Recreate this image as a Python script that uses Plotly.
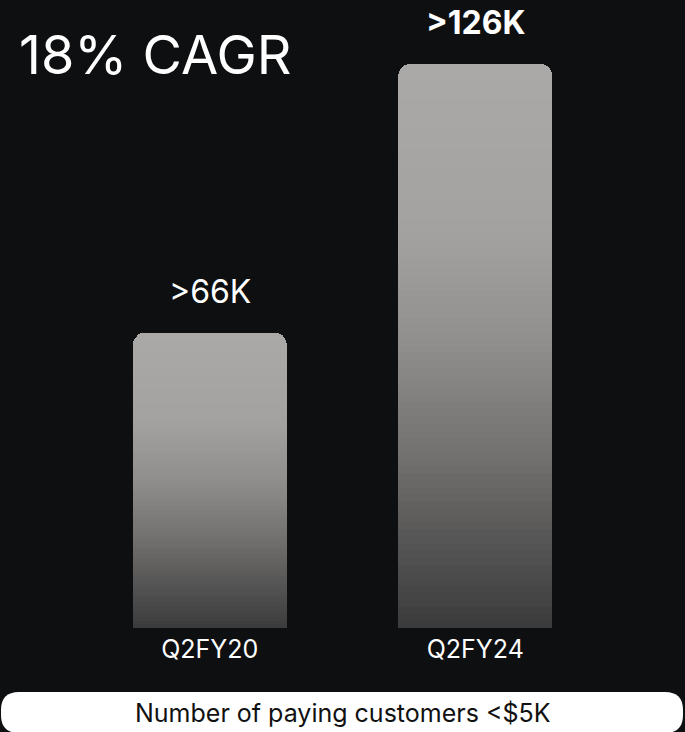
import plotly.graph_objects as go
from plotly.colors import sample_colorscale

# ---- data ----
categories = ["Q2FY20", "Q2FY24"]
values = [66, 126]          # thousands of paying customers
value_labels = [">66K", "<b>>126K</b>"]
headline = "18% CAGR"
footer = "Number of paying customers <$5K"

# ---- style / layout constants ----
W, H = 685, 732
ML, MR, MT, MB = 77, 77, 20, 104
PW, PH = W - ML - MR, H - MT - MB
BG = "#0e0f11"
FONT = "Inter"
PX_PER_UNIT = 4.476
YMAX = PH / PX_PER_UNIT
N_SEG = 80
grad = [[0.0, "#aaa9a7"], [0.3, "#a3a2a0"], [0.5, "#8f8e8c"],
        [0.7, "#71706e"], [0.85, "#565555"], [1.0, "#3b3b3b"]]


def px2paper_x(px):
    return (px - ML) / PW


def px2paper_y(py):
    return (H - MB - py) / PH


fig = go.Figure()

# gradient bars drawn as stacked slices of each value
for k in range(N_SEG):
    frac_top = 1 - (k + 0.5) / N_SEG
    col = sample_colorscale(grad, [frac_top])[0]
    fig.add_trace(go.Bar(
        x=categories,
        y=[v / N_SEG for v in values],
        marker=dict(color=col, line=dict(width=0)),
        hoverinfo="skip",
        showlegend=False,
    ))

annotations = []
for cat, v, lab in zip(categories, values, value_labels):
    annotations.append(dict(
        x=cat, y=v, xref="x", yref="y", text=lab, showarrow=False,
        yanchor="bottom", yshift=20,
        font=dict(family=FONT, size=32, color="#ffffff"),
    ))

annotations.append(dict(
    x=px2paper_x(17), y=px2paper_y(54), xref="paper", yref="paper",
    text=headline, showarrow=False, xanchor="left", yanchor="middle",
    font=dict(family=FONT, size=54, color="#ffffff"),
))
annotations.append(dict(
    x=0.5, y=px2paper_y(713), xref="paper", yref="paper",
    text=footer.replace("<", "&lt;"), showarrow=False, xanchor="center", yanchor="middle",
    font=dict(family=FONT, size=25, color="#111111"),
))

# rounded white footer box
x0, x1, y0, y1, r = 1, 683, 692, 733, 18
rx, ry = r / PW, r / PH
X0, X1 = px2paper_x(x0), px2paper_x(x1)
Yt, Yb = px2paper_y(y0), px2paper_y(y1)
path = (
    f"M {X0+rx},{Yt} L {X1-rx},{Yt} Q {X1},{Yt} {X1},{Yt-ry} "
    f"L {X1},{Yb+ry} Q {X1},{Yb} {X1-rx},{Yb} "
    f"L {X0+rx},{Yb} Q {X0},{Yb} {X0},{Yb+ry} "
    f"L {X0},{Yt-ry} Q {X0},{Yt} {X0+rx},{Yt} Z"
)

fig.update_layout(
    width=W, height=H,
    margin=dict(l=ML, r=MR, t=MT, b=MB),
    paper_bgcolor=BG, plot_bgcolor=BG,
    barmode="stack", bargap=0.42, barcornerradius=12,
    annotations=annotations,
    shapes=[dict(type="path", xref="paper", yref="paper", path=path,
                 fillcolor="#ffffff", line=dict(width=0), layer="above")],
    xaxis=dict(range=[-0.5, 1.5], showgrid=False, zeroline=False, showline=False,
               ticks="", ticklabelstandoff=4,
               tickfont=dict(family=FONT, size=25, color="#ffffff")),
    yaxis=dict(range=[0, YMAX], visible=False, showgrid=False, zeroline=False),
    font=dict(family=FONT),
)

fig.write_html("out.html")
